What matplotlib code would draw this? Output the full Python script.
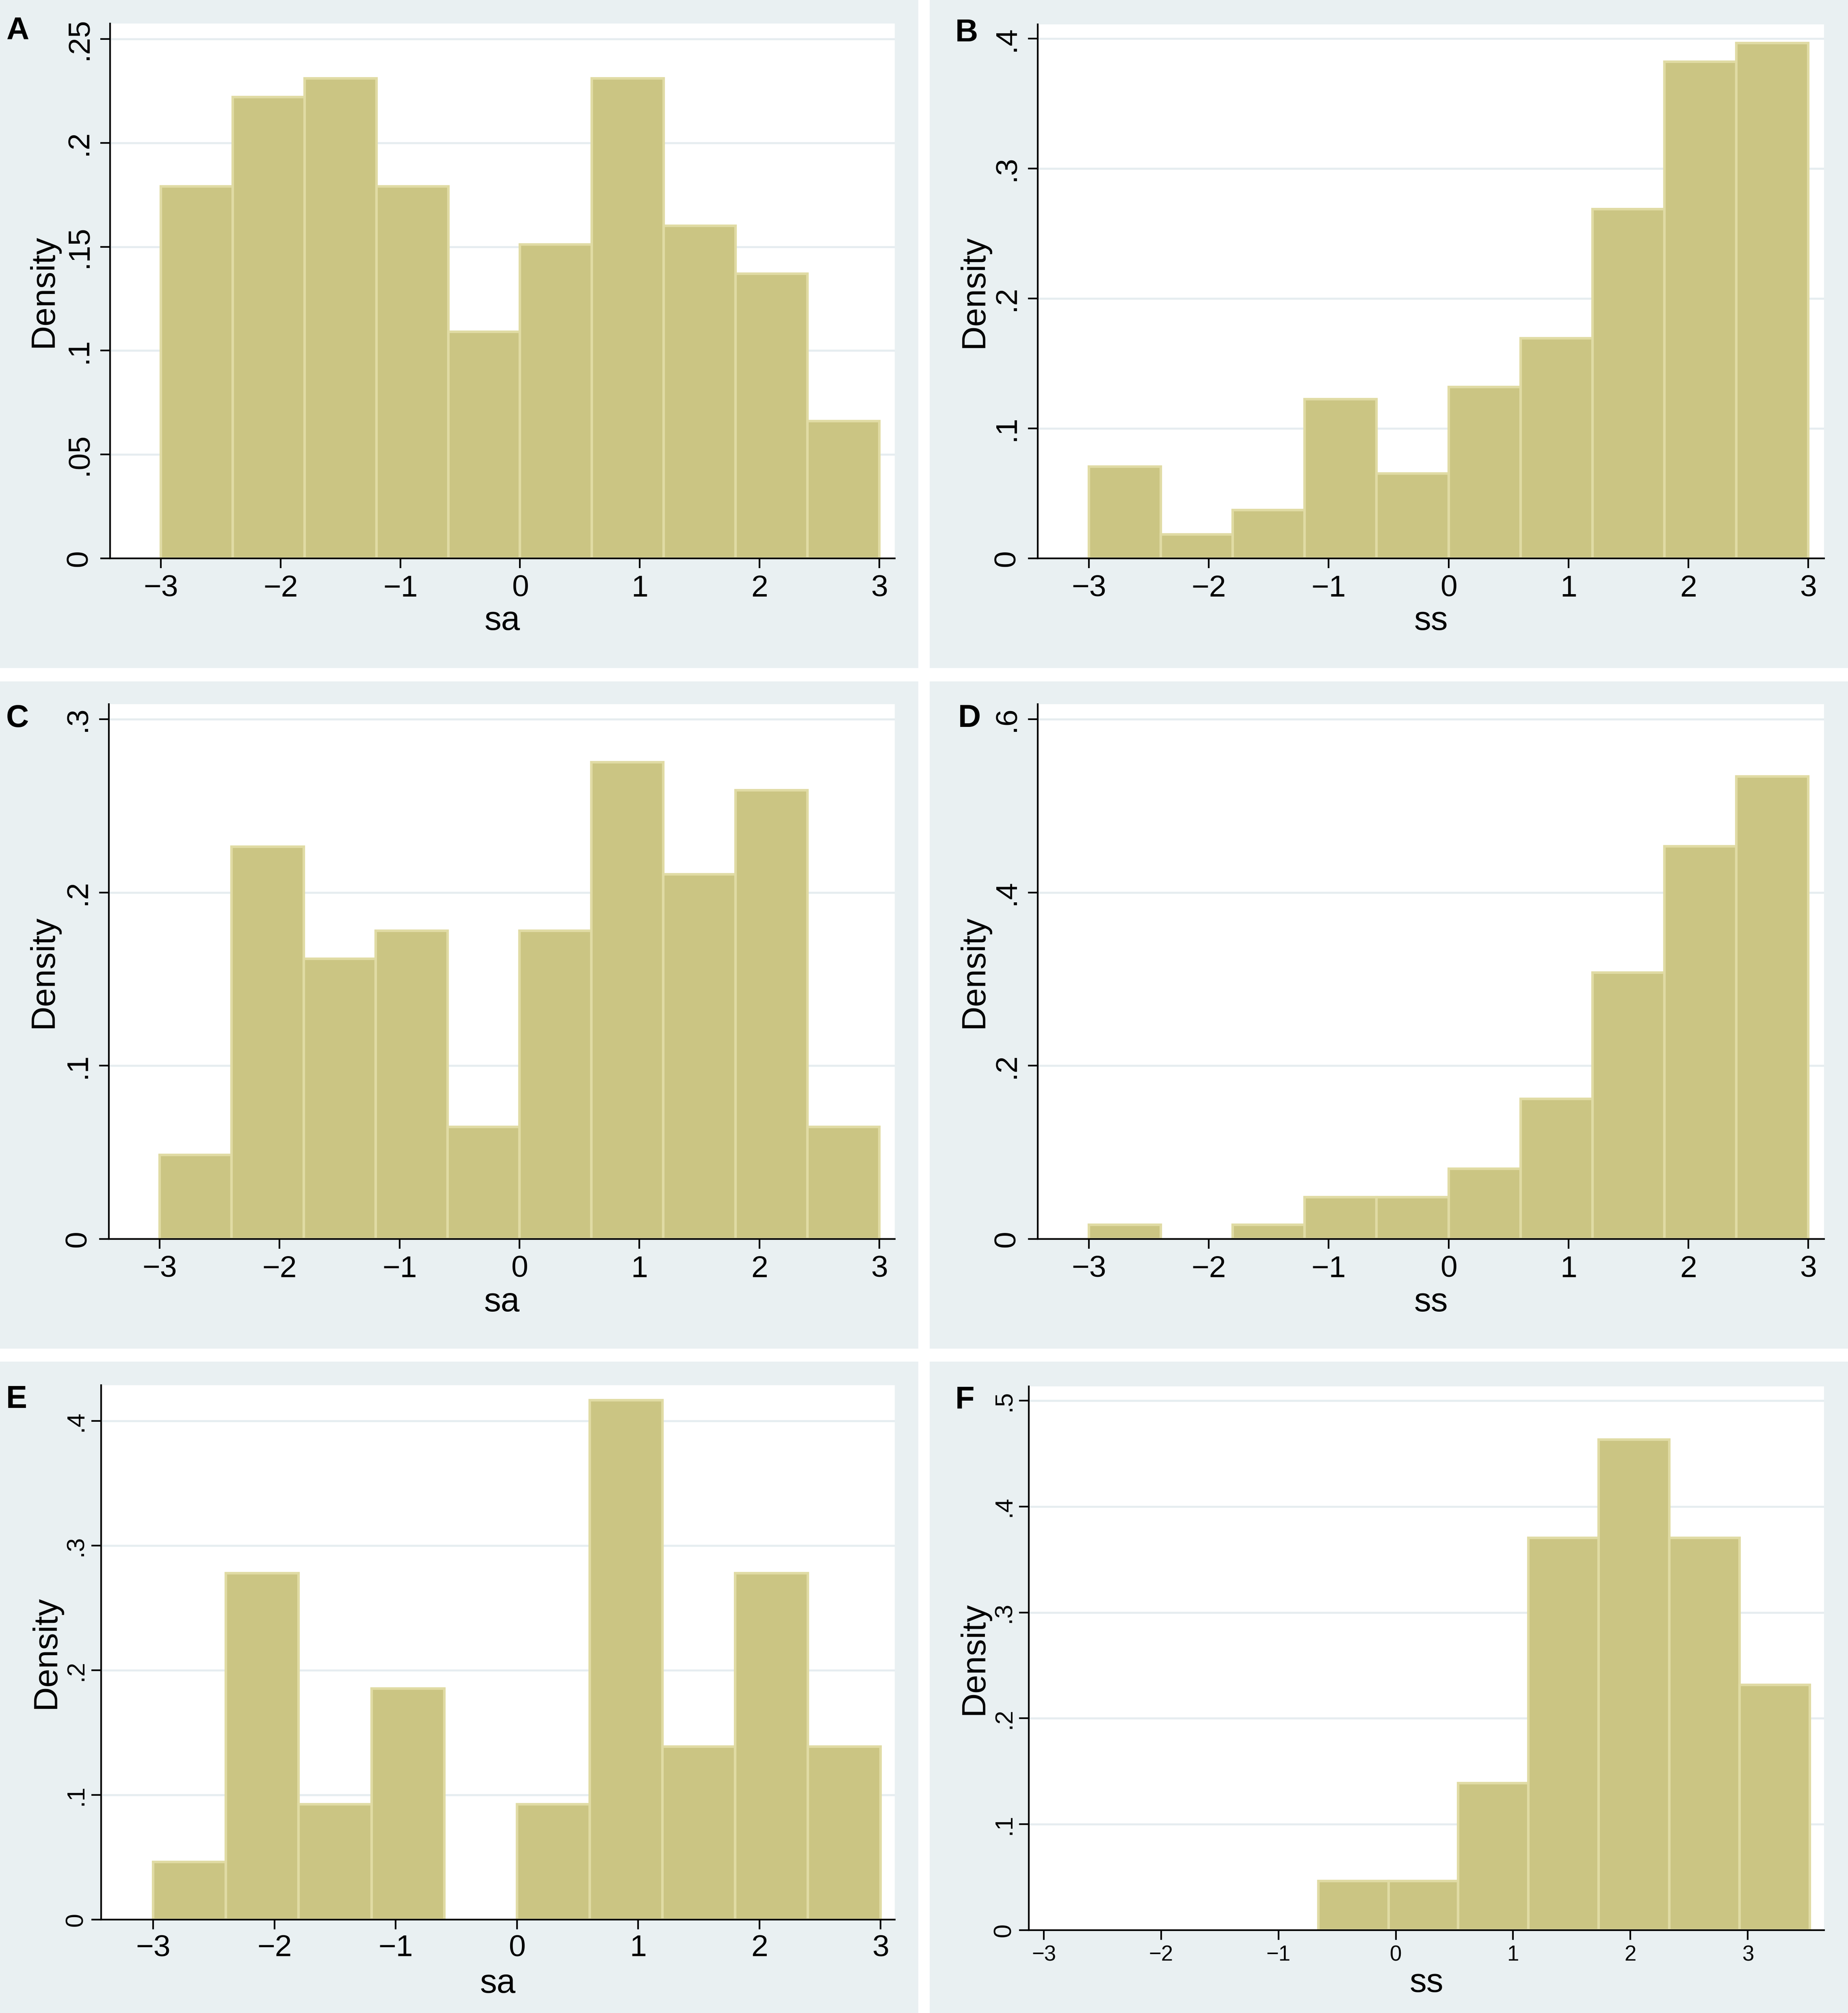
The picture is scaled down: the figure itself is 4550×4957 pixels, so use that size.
import numpy as np
import matplotlib
matplotlib.use('Agg')
import matplotlib.pyplot as plt
from matplotlib.patches import Rectangle

plt.rcParams['font.family'] = ['Liberation Sans Narrow', 'Liberation Sans', 'DejaVu Sans']

# ---- data (density per bin) ----
sa_edges = [-3, -2.4, -1.8, -1.2, -0.6, 0, 0.6, 1.2, 1.8, 2.4, 3]
ss_edges = [-3, -2.4, -1.8, -1.2, -0.6, 0, 0.6, 1.2, 1.8, 2.4, 3]
f_edges = [-0.66, -0.06, 0.53, 1.13, 1.73, 2.33, 2.93, 3.53]

dens_a = [0.179, 0.222, 0.231, 0.179, 0.109, 0.151, 0.231, 0.160, 0.137, 0.066]
dens_b = [0.0705, 0.0183, 0.0373, 0.1224, 0.0654, 0.1319, 0.1695, 0.2688, 0.3824, 0.3966]
dens_c = [0.0485, 0.2265, 0.1618, 0.1780, 0.0647, 0.1780, 0.2751, 0.2104, 0.2589, 0.0647]
dens_d = [0.0162, 0.0, 0.0162, 0.0485, 0.0485, 0.0809, 0.1618, 0.3074, 0.4531, 0.5340]
dens_e = [0.0463, 0.2778, 0.0926, 0.1852, 0.0, 0.0926, 0.4167, 0.1389, 0.2778, 0.1389]
dens_f = [0.0463, 0.0463, 0.1389, 0.3704, 0.4630, 0.3704, 0.2315]

xticks = [-3, -2, -1, 0, 1, 2, 3]
xtick_labels = ['\u22123', '\u22122', '\u22121', '0', '1', '2', '3']
yticks_a = [0, 0.05, 0.1, 0.15, 0.2, 0.25]
ylabels_a = ['0', '.05', '.1', '.15', '.2', '.25']
yticks_b = [0, 0.1, 0.2, 0.3, 0.4]
ylabels_b = ['0', '.1', '.2', '.3', '.4']
yticks_c = [0, 0.1, 0.2, 0.3]
ylabels_c = ['0', '.1', '.2', '.3']
yticks_d = [0, 0.2, 0.4, 0.6]
ylabels_d = ['0', '.2', '.4', '.6']
yticks_e = [0, 0.1, 0.2, 0.3, 0.4]
ylabels_e = ['0', '.1', '.2', '.3', '.4']
yticks_f = [0, 0.1, 0.2, 0.3, 0.4, 0.5]
ylabels_f = ['0', '.1', '.2', '.3', '.4', '.5']

# ---- styling ----
W, H = 4550, 4957
DPI = 100
bg = '#E9F0F2'
grid_c = '#E6EDF0'
fill_c = '#CBC583'
edge_c = '#E0DBA4'

fig = plt.figure(figsize=(W / DPI, H / DPI), dpi=DPI)
fig.patch.set_facecolor('white')

# light panel backgrounds (pixel boxes: x0, y0, x1, y1 from top-left)
panel_boxes = [(0, 0, 2261, 1645), (2289, 0, 4550, 1645),
               (0, 1678, 2261, 3321), (2289, 1678, 4550, 3321),
               (0, 3353, 2261, 4957), (2289, 3353, 4550, 4957)]
for x0, y0, x1, y1 in panel_boxes:
    fig.patches.append(Rectangle((x0 / W, 1 - y1 / H), (x1 - x0) / W, (y1 - y0) / H,
                                 transform=fig.transFigure, facecolor=bg,
                                 edgecolor='none', zorder=-10))


def px_axes(left, top, right, bottom):
    return fig.add_axes([left / W, 1 - bottom / H, (right - left) / W, (bottom - top) / H])


panels = [
    dict(letter='A', box=(271, 58, 2203, 1375), edges=sa_edges, dens=dens_a,
         xlim=(-3.424, 3.129), ylim=(0, 0.2574), yt=yticks_a, yl=ylabels_a, xl='sa',
         xfs=54, yfs=54, xpad=11.5, ypad=13, xlab_y=-0.1336, ylab_x=-0.0735, lpos=(15, 40)),
    dict(letter='B', box=(2555, 60, 4491, 1375), edges=ss_edges, dens=dens_b,
         xlim=(-3.427, 3.132), ylim=(0, 0.411), yt=yticks_b, yl=ylabels_b, xl='ss',
         xfs=54, yfs=54, xpad=11.5, ypad=13, xlab_y=-0.1336, ylab_x=-0.0697, lpos=(2352, 45)),
    dict(letter='C', box=(268, 1734, 2203, 3051), edges=sa_edges, dens=dens_c,
         xlim=(-3.424, 3.129), ylim=(0, 0.3087), yt=yticks_c, yl=ylabels_c, xl='sa',
         xfs=54, yfs=54, xpad=11.5, ypad=13, xlab_y=-0.1352, ylab_x=-0.0718, lpos=(15, 1733)),
    dict(letter='D', box=(2555, 1734, 4491, 3051), edges=ss_edges, dens=dens_d,
         xlim=(-3.427, 3.132), ylim=(0, 0.6174), yt=yticks_d, yl=ylabels_d, xl='ss',
         xfs=54, yfs=54, xpad=11.5, ypad=13, xlab_y=-0.1352, ylab_x=-0.0697, lpos=(2359, 1733)),
    dict(letter='E', box=(249, 3411, 2203, 4727), edges=sa_edges, dens=dens_e,
         xlim=(-3.43, 3.117), ylim=(0, 0.4287), yt=yticks_e, yl=ylabels_e, xl='sa',
         xfs=54, yfs=44, xpad=9, ypad=6.5, xlab_y=-0.1368, ylab_x=-0.0583, lpos=(15, 3410)),
    dict(letter='F', box=(2533, 3414, 4491, 4753), edges=f_edges, dens=dens_f,
         xlim=(-3.128, 3.65), ylim=(0, 0.5134), yt=yticks_f, yl=ylabels_f, xl='ss',
         xfs=38, yfs=44, xpad=9, ypad=6, xlab_y=-0.1135, ylab_x=-0.0577, lpos=(2352, 3412)),
]

for p in panels:
    ax = px_axes(*p['box'])
    ax.set_facecolor('white')
    edges = np.array(p['edges'])
    dens = np.array(p['dens'])
    keep = dens > 0
    ax.bar(edges[:-1][keep], dens[keep], width=np.diff(edges)[keep], align='edge',
           color=fill_c, edgecolor=edge_c, linewidth=4.5, zorder=2)

    ax.set_xlim(*p['xlim'])
    ax.set_ylim(*p['ylim'])
    ax.set_xticks(xticks)
    ax.set_xticklabels(xtick_labels, fontsize=p['xfs'])
    ax.set_yticks(p['yt'])
    ax.set_yticklabels(p['yl'], fontsize=p['yfs'], rotation=90, va='center')

    ax.yaxis.grid(True, color=grid_c, linewidth=3.6, zorder=0)
    ax.set_axisbelow(True)
    for s in ['top', 'right']:
        ax.spines[s].set_visible(False)
    for s in ['left', 'bottom']:
        ax.spines[s].set_linewidth(3.0)
        ax.spines[s].set_color('black')
        ax.spines[s].set_zorder(3)
    ax.tick_params(axis='x', direction='out', length=17, width=3.0, pad=p['xpad'])
    ax.tick_params(axis='y', direction='out', length=17, width=3.0, pad=p['ypad'])

    ax.set_xlabel(p['xl'], fontsize=60, va='baseline')
    ax.xaxis.set_label_coords(0.5, p['xlab_y'])
    ax.set_ylabel('Density', fontsize=60, va='baseline')
    ax.yaxis.set_label_coords(p['ylab_x'], 0.5)

    lx, ly = p['lpos']
    fig.text(lx / W, 1 - ly / H, p['letter'], fontsize=56, fontweight='bold',
             family=['Liberation Sans', 'DejaVu Sans'], ha='left', va='top')

fig.savefig('out.png', dpi=DPI, facecolor='white')
